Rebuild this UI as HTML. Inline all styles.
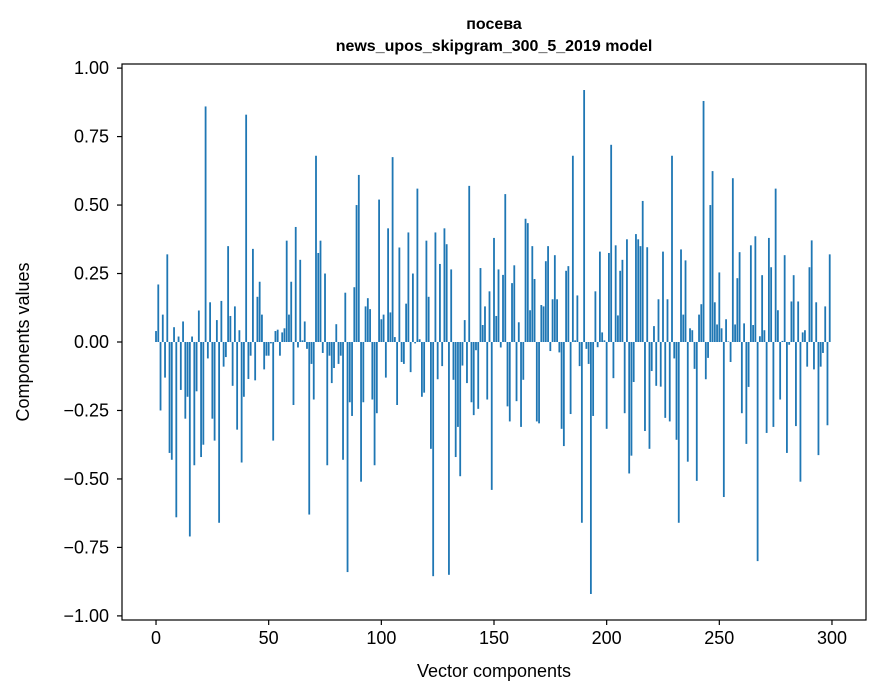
<!DOCTYPE html>
<html><head><meta charset="utf-8"><style>
body{margin:0;background:#fff;}
svg{display:block;font-family:"Liberation Sans","DejaVu Sans",sans-serif;}
</style></head><body>
<svg id="chart" width="880" height="696" viewBox="0 0 880 696" xmlns="http://www.w3.org/2000/svg">
<rect x="0" y="0" width="880" height="696" fill="#fff"/>
<text x="494" y="29" text-anchor="middle" font-size="16" font-weight="bold">посева</text>
<text x="494" y="51" text-anchor="middle" font-size="16" font-weight="bold">news_upos_skipgram_300_5_2019 model</text>
<g id="bars"></g>
<g id="xticks"></g>
<g id="yticks"></g>
<rect x="122" y="64" width="744" height="556" fill="none" stroke="#000" stroke-width="1.2"/>
<text x="494" y="677" text-anchor="middle" font-size="18">Vector components</text>
<text transform="translate(29,342) rotate(-90)" text-anchor="middle" font-size="18">Components values</text>
</svg>
<script>
const values = [
0.04,0.21,-0.25,0.10,-0.13,0.32,-0.405,-0.43,0.054,-0.64,
0.02,-0.175,0.075,-0.28,-0.2,-0.71,0.02,-0.45,-0.18,0.115,
-0.42,-0.375,0.86,-0.06,0.145,-0.28,-0.36,0.08,-0.66,0.15,
-0.09,-0.055,0.35,0.095,-0.16,0.13,-0.32,0.043,-0.44,-0.2,
0.83,-0.135,-0.05,0.34,-0.14,0.165,0.22,0.10,-0.1,-0.05,
-0.05,-0.005,-0.36,0.04,0.045,-0.05,0.035,0.05,0.37,0.10,
0.22,-0.23,0.42,-0.02,0.30,0.006,0.075,-0.025,-0.63,-0.08,
-0.21,0.68,0.325,0.37,-0.04,0.25,-0.45,-0.05,-0.15,-0.095,
0.065,-0.08,-0.05,-0.43,0.18,-0.84,-0.22,-0.27,0.20,0.50,
0.61,-0.51,-0.22,0.13,0.16,0.12,-0.21,-0.45,-0.26,0.52,
0.083,0.10,-0.13,0.415,0.108,0.675,0.018,-0.23,0.345,-0.073,
-0.08,0.14,0.40,-0.11,0.25,-0.005,0.56,0.01,-0.2,-0.185,
0.37,0.165,-0.39,-0.855,0.40,-0.136,0.285,-0.088,0.415,0.357,
-0.85,0.265,-0.138,-0.42,-0.31,-0.49,-0.086,0.08,-0.15,0.57,
-0.22,-0.267,-0.03,-0.244,0.27,0.062,0.13,-0.21,0.185,-0.54,
0.38,0.095,0.265,-0.02,0.245,0.54,-0.235,-0.29,0.215,0.28,
-0.216,0.072,-0.31,-0.138,0.45,0.434,0.116,0.35,0.23,-0.29,
-0.297,0.135,0.13,0.295,0.35,-0.033,0.156,0.317,0.156,-0.038,
-0.317,-0.38,0.26,0.277,-0.263,0.68,0.006,0.17,-0.088,-0.66,
0.92,-0.025,-0.08,-0.92,-0.27,0.185,-0.019,0.33,0.035,0.006,
-0.317,0.325,0.72,-0.132,0.353,0.097,0.26,0.30,-0.26,0.375,
-0.48,-0.415,-0.146,0.394,0.375,0.35,0.515,-0.325,0.346,-0.39,
-0.106,0.058,-0.16,0.156,-0.163,0.33,-0.277,0.156,-0.29,0.68,
-0.06,-0.357,-0.66,0.338,0.10,0.298,-0.437,0.05,0.043,-0.098,
-0.507,0.10,0.138,0.88,-0.136,-0.058,0.50,0.624,0.145,0.064,
0.254,0.05,-0.566,0.083,0.002,-0.073,0.598,0.064,0.233,0.328,
-0.26,0.068,-0.372,-0.164,0.353,0.062,0.386,-0.80,0.021,0.244,
0.043,-0.332,0.38,0.273,-0.31,0.56,0.116,-0.21,0.004,0.317,
-0.405,-0.01,0.148,0.244,-0.307,0.148,-0.51,0.035,0.043,-0.09,
0.273,0.371,-0.1,0.145,-0.413,-0.09,-0.04,0.13,-0.304,0.32
];
const xTickValues = [0,50,100,150,200,250,300];
const xTickLabels = ["0","50","100","150","200","250","300"];
const yTickValues = [1,0.75,0.5,0.25,0,-0.25,-0.5,-0.75,-1];
const yTickLabels = ["1.00","0.75","0.50","0.25","0.00","\u22120.25","\u22120.50","\u22120.75","\u22121.00"];

const NS = "http://www.w3.org/2000/svg";
const PL = 122, PR = 866, PT = 64, PB = 620;
const XMIN = -15.1, XMAX = 315.1, YMIN = -1.015, YMAX = 1.015;
function xs(v){ return PL + (v - XMIN) / (XMAX - XMIN) * (PR - PL); }
function ys(v){ return PB - (v - YMIN) / (YMAX - YMIN) * (PB - PT); }

const barsG = document.getElementById('bars');
values.forEach((v, i) => {
  const r = document.createElementNS(NS, 'rect');
  const x0 = xs(i - 0.4), x1 = xs(i + 0.4);
  const y0 = ys(Math.max(v, 0)), y1 = ys(Math.min(v, 0));
  r.setAttribute('x', x0);
  r.setAttribute('width', x1 - x0);
  r.setAttribute('y', y0);
  r.setAttribute('height', Math.max(y1 - y0, 0.01));
  r.setAttribute('fill', '#1f77b4');
  
  
  barsG.appendChild(r);
});

const xg = document.getElementById('xticks');
xTickValues.forEach((v, k) => {
  const x = xs(v);
  const l = document.createElementNS(NS, 'line');
  l.setAttribute('x1', x); l.setAttribute('x2', x);
  l.setAttribute('y1', PB); l.setAttribute('y2', PB + 5);
  l.setAttribute('stroke', '#000'); l.setAttribute('stroke-width', '1.2');
  
  
  xg.appendChild(l);
  const t = document.createElementNS(NS, 'text');
  t.setAttribute('x', x); t.setAttribute('y', PB + 24);
  t.setAttribute('text-anchor', 'middle'); t.setAttribute('font-size', '18');
  t.textContent = xTickLabels[k];
  
  
  xg.appendChild(t);
});

const yg = document.getElementById('yticks');
yTickValues.forEach((v, k) => {
  const y = ys(v);
  const l = document.createElementNS(NS, 'line');
  l.setAttribute('x1', PL - 5); l.setAttribute('x2', PL);
  l.setAttribute('y1', y); l.setAttribute('y2', y);
  l.setAttribute('stroke', '#000'); l.setAttribute('stroke-width', '1.2');
  
  
  yg.appendChild(l);
  const t = document.createElementNS(NS, 'text');
  t.setAttribute('x', PL - 13); t.setAttribute('y', y + 6);
  t.setAttribute('text-anchor', 'end'); t.setAttribute('font-size', '18');
  t.textContent = yTickLabels[k];
  
  
  yg.appendChild(t);
});
</script>
</body></html>
